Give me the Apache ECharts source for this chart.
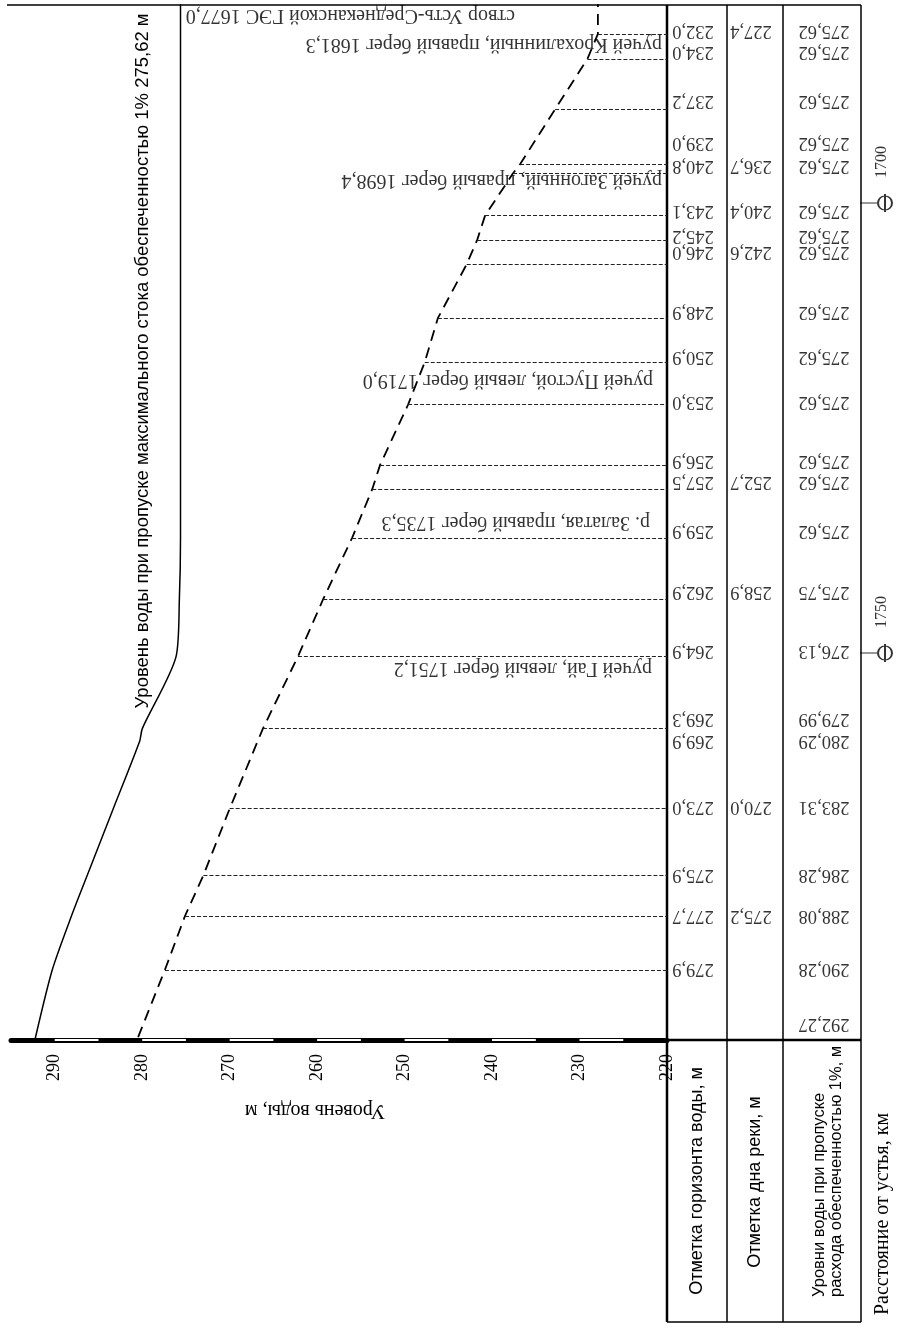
<!DOCTYPE html>
<html>
<head>
<meta charset="utf-8">
<script src="https://cdn.jsdelivr.net/npm/echarts/dist/echarts.min.js"></script>
<style>html,body{margin:0;padding:0;background:#fff}#c{width:897px;height:1326px}</style>
</head>
<body>
<div id="c"></div>
<script>
// ---------------- DATA ----------------
const levelTicks = [290, 280, 270, 260, 250, 240, 230, 220];
const kmTicks = [1700, 1750];

// table rows (distance where row line is drawn / where row text is printed)
const rowKm  = [1681.2,1684.0,1689.6,1695.7,1696.7,1701.4,1704.1,1706.8,1712.8,1717.7,1722.4,1729.1,1731.8,1737.2,1744.0,1750.4,1758.4,1759.8,1767.3,1774.7,1779.2,1785.2,1793.0];
const textKm = [1680.9,1683.2,1688.7,1693.3,1695.9,1700.9,1703.7,1705.4,1712.1,1717.1,1722.1,1728.7,1731.0,1736.4,1743.2,1749.8,1757.3,1759.8,1767.1,1774.6,1779.2,1785.1,1791.2];
const horizonLevel = [232.0,234.0,237.2,239.0,240.8,243.1,245.2,246.0,248.9,250.9,253.0,256.9,257.5,259.9,262.9,264.9,269.3,269.9,273.0,275.9,277.7,279.9,null];
const bottomLevel  = [227.4,null,null,null,236.7,240.4,null,242.6,null,null,null,null,252.7,null,258.9,null,null,null,270.0,null,275.2,null,null];
const flood1Level  = [275.62,275.62,275.62,275.62,275.62,275.62,275.62,275.62,275.62,275.62,275.62,275.62,275.62,275.62,275.75,276.13,279.99,280.29,283.31,286.28,288.08,290.28,292.27];
const damKm = 1677.0;

// water-surface profile as drawn (dashed line)
const profileKm    = [1677.0,1681.2,1684.0,1689.6,1695.7,1696.7,1701.4,1704.1,1706.8,1712.8,1717.7,1722.4,1729.1,1731.8,1737.2,1744.0,1750.4,1758.4,1767.3,1774.7,1779.2,1785.2,1793.0];
const profileLevel = [227.9,227.9,229.1,232.8,236.8,237.6,240.8,241.7,242.9,246.2,247.7,249.6,252.8,253.7,256.0,259.3,262.2,266.2,270.0,273.0,275.1,277.4,280.6];

// annotated points along the river
const streamNames = ['створ Усть-Среднеканской ГЭС','ручей Крохалинный, правый берег','ручей Загонный, правый берег','ручей Пустой, левый берег','р. Залатая, правый берег','ручей Гай, левый берег'];
const streamKm    = [1677.0, 1681.3, 1698.4, 1719.0, 1735.3, 1751.2];

// ---------------- STYLE / LAYOUT ----------------
const SERIF = '"Liberation Serif","Times New Roman",serif';
const SANS  = '"Liberation Sans",Arial,sans-serif';
const KM_MIN = 1678, KM_MAX = 1793;
const LV_MIN = 220, LV_MAX = 295;
const TOP = 5, H = 1035;
const streamOffsets = [[-152,19],[-5,10],[-5,-8],[-14,6],[-17,2],[-15,4]];

const fmt = (v, d) => v.toFixed(d).replace('.', ',');
function off(dx, dy, rotDeg) {
  const r = rotDeg * Math.PI / 180;
  return [dx*Math.cos(r) - dy*Math.sin(r), dx*Math.sin(r) + dy*Math.cos(r)];
}

const chart = echarts.init(document.getElementById('c'), null, {renderer: 'canvas'});

const grids = [
  {left: 11,  top: TOP, width: 656, height: H},
  {left: 667, top: TOP, width: 60,  height: H},
  {left: 727, top: TOP, width: 56,  height: H},
  {left: 783, top: TOP, width: 78,  height: H},
  {left: 861, top: TOP, width: 36,  height: H}
].map(g => Object.assign(g, {containLabel: false, outerBoundsMode: 'none', show: false}));

const yAxes = grids.map((g, i) => ({
  gridIndex: i, type: 'value', min: KM_MIN, max: KM_MAX, inverse: true, show: false
}));

const xAxes = [{
  gridIndex: 0, type: 'value', min: LV_MIN, max: LV_MAX, interval: 10, inverse: true,
  position: 'bottom',
  axisLine: {show: true, onZero: false, lineStyle: {color: '#000', width: 5}},
  axisTick: {show: false}, splitLine: {show: false},
  axisLabel: {
    rotate: 90, margin: 14, color: '#000', fontFamily: SERIF, fontSize: 18,
    formatter: v => levelTicks.includes(v) ? String(v) : ''
  }
}];
for (let i = 1; i < 5; i++) xAxes.push({gridIndex: i, type: 'value', min: 0, max: 1, show: false});

// leader lines from profile to table
const leaders = [];
for (let i = 1; i < profileKm.length - 1; i++) {
  leaders.push([{coord: [profileLevel[i], profileKm[i]]}, {coord: [LV_MIN, profileKm[i]]}]);
}
// ruler marks on the axis
const ruler = levelTicks.filter(v => v > LV_MIN).map(v => [{coord: [v, KM_MAX]}, {coord: [v - 5, KM_MAX]}]);

function tableSeries(gi, values, dec, dx) {
  const data = [];
  values.forEach((v, i) => { if (v != null) data.push({name: fmt(v, dec), value: [0.5, textKm[i]]}); });
  return {
    type: 'scatter', xAxisIndex: gi, yAxisIndex: gi, symbolSize: 1, silent: true,
    itemStyle: {color: 'rgba(0,0,0,0)'}, data,
    label: {show: true, position: 'inside', rotate: 180, formatter: '{b}', color: '#000',
      fontFamily: SERIF, fontSize: 18.5, align: 'center', verticalAlign: 'middle', offset: off(dx, 0, 180)}
  };
}

const series = [
  { // dashed water-surface profile
    name: 'profile', type: 'line', xAxisIndex: 0, yAxisIndex: 0, symbol: 'none', silent: true, clip: true,
    data: profileKm.map((k, i) => [profileLevel[i], k]),
    lineStyle: {color: '#000', width: 1.8, type: [11, 7]},
    markLine: {
      silent: true, symbol: ['none', 'none'], label: {show: false}, animation: false,
      lineStyle: {color: '#222', width: 1, type: [4, 2]},
      data: leaders
    }
  },
  { // solid 1% flood level
    name: 'flood', type: 'line', xAxisIndex: 0, yAxisIndex: 0, symbol: 'none', silent: true, clip: true,
    smooth: 0.25,
    data: [[flood1Level[0], damKm]].concat(rowKm.map((k, i) => [flood1Level[i], k])),
    lineStyle: {color: '#000', width: 1.5},
    markLine: {
      silent: true, symbol: ['none', 'none'], label: {show: false}, animation: false,
      lineStyle: {color: '#fff', width: 2, type: 'solid'},
      data: ruler
    }
  },
  { // stream / dam annotations
    type: 'scatter', xAxisIndex: 0, yAxisIndex: 0, symbolSize: 1, silent: true, clip: false,
    itemStyle: {color: 'rgba(0,0,0,0)'},
    data: streamKm.map((k, i) => ({
      name: streamNames[i] + ' ' + fmt(k, 1), value: [LV_MIN, k],
      label: {offset: off(streamOffsets[i][0], streamOffsets[i][1], 180)}
    })),
    label: {show: true, position: 'inside', rotate: 180, formatter: '{b}', color: '#000',
      fontFamily: SERIF, fontSize: 20, align: 'left', verticalAlign: 'middle'}
  },
  tableSeries(1, horizonLevel, 1, -4),
  tableSeries(2, bottomLevel, 1, -4),
  tableSeries(3, flood1Level, 2, 2),
  { // km markers
    type: 'scatter', xAxisIndex: 4, yAxisIndex: 4, silent: true, clip: false,
    symbol: 'path://M-25,0L-7,0M0,-9L0,9M-7,0A7,7,0,1,1,7,0A7,7,0,1,1,-7,0',
    symbolSize: [32, 18], symbolOffset: [15, 0],
    itemStyle: {color: 'rgba(0,0,0,0)', borderColor: '#000', borderWidth: 1.5},
    data: kmTicks.map(k => ({name: String(k), value: [0, k]})),
    label: {show: true, position: 'inside', rotate: 90, formatter: '{b}', color: '#000',
      fontFamily: SERIF, fontSize: 16, align: 'left', verticalAlign: 'middle', offset: off(6, -25, 90)}
  }
];

const L = (x1, y1, x2, y2, w) => ({type: 'line', silent: true, shape: {x1, y1, x2, y2}, style: {stroke: '#000', lineWidth: w}});
const T = (text, x, y, rot, font, align) => ({type: 'text', silent: true, x, y, rotation: rot,
  style: {text, fill: '#000', font, align: align || 'center', verticalAlign: 'middle'}});

const graphic = [
  L(7, 5, 861, 5, 1.5),
  L(667, 5, 667, 1322, 2.5),
  L(727, 5, 727, 1322, 1.5),
  L(783, 5, 783, 1322, 1.5),
  L(861, 5, 861, 1322, 1.5),
  L(667, 1040, 861, 1040, 2.5),
  L(667, 1322, 861, 1322, 1.5),
  T('Уровень воды, м', 315, 1110, Math.PI, '20px ' + SERIF),
  T('Уровень воды при пропуске максимального стока обеспеченностью 1% ' + fmt(flood1Level[0], 2) + ' м', 143, 361, Math.PI / 2, '18.5px ' + SANS),
  T('Отметка горизонта воды, м', 697, 1181, Math.PI / 2, '18px ' + SANS),
  T('Отметка дна реки, м', 755, 1182, Math.PI / 2, '18px ' + SANS),
  T('Уровни воды при пропуске\nрасхода обеспеченностью 1%, м', 828, 1297, Math.PI / 2, '16.5px ' + SANS, 'left'),
  T('Расстояние от устья, км', 883, 1214, Math.PI / 2, '20px ' + SERIF)
];

chart.setOption({
  animation: false,
  backgroundColor: '#fff',
  grid: grids,
  xAxis: xAxes,
  yAxis: yAxes,
  series,
  graphic
});
</script>
</body>
</html>
